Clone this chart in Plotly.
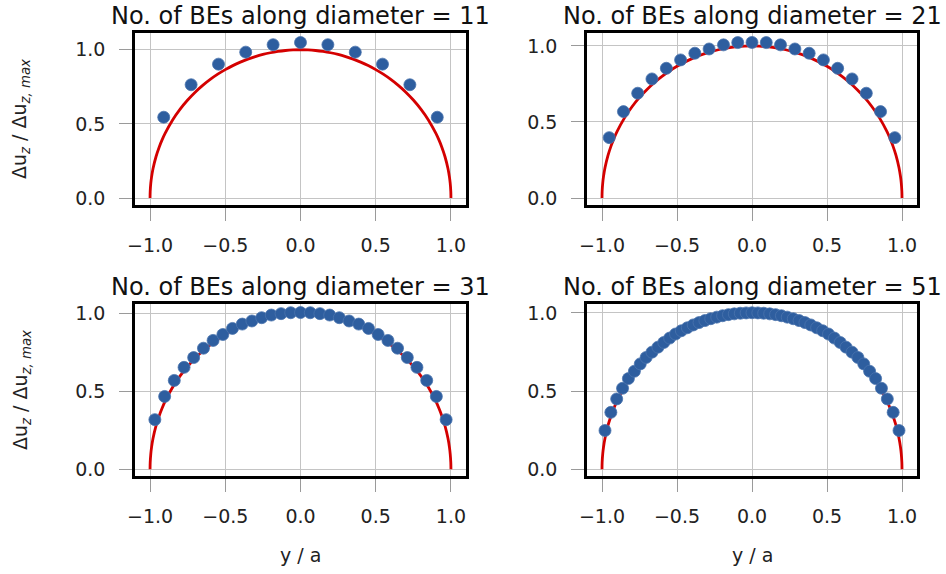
import plotly.graph_objects as go
from plotly.subplots import make_subplots

# ---- data ----
titles = ["No. of BEs along diameter = 11", "No. of BEs along diameter = 21",
          "No. of BEs along diameter = 31", "No. of BEs along diameter = 51"]

curve_x = [-1.0, -0.999, -0.995, -0.99, -0.98, -0.96, -0.94, -0.92, -0.9, -0.85, -0.8, -0.75, -0.7,
           -0.65, -0.6, -0.55, -0.5, -0.45, -0.4, -0.35, -0.3, -0.25, -0.2, -0.15, -0.1, -0.05, 0.0,
           0.05, 0.1, 0.15, 0.2, 0.25, 0.3, 0.35, 0.4, 0.45, 0.5, 0.55, 0.6, 0.65,
           0.7, 0.75, 0.8, 0.85, 0.9, 0.92, 0.94, 0.96, 0.98, 0.99, 0.995, 0.999, 1.0]
curve_y = [0.0, 0.0447, 0.0999, 0.1411, 0.199, 0.28, 0.3412, 0.3919, 0.4359, 0.5268, 0.6, 0.6614, 0.7141,
           0.7599, 0.8, 0.8352, 0.866, 0.893, 0.9165, 0.9367, 0.9539, 0.9682, 0.9798, 0.9887, 0.995, 0.9987, 1.0,
           0.9987, 0.995, 0.9887, 0.9798, 0.9682, 0.9539, 0.9367, 0.9165, 0.893, 0.866, 0.8352, 0.8, 0.7599,
           0.7141, 0.6614, 0.6, 0.5268, 0.4359, 0.3919, 0.3412, 0.28, 0.199, 0.1411, 0.0999, 0.0447, 0.0]

x11 = [-0.909, -0.727, -0.545, -0.364, -0.182, 0.0, 0.182, 0.364, 0.545, 0.727, 0.909]
y11 = [0.545, 0.764, 0.903, 0.984, 1.034, 1.049, 1.034, 0.984, 0.903, 0.764, 0.545]

x21 = [-0.952, -0.857, -0.762, -0.667, -0.571, -0.476, -0.381, -0.286, -0.190, -0.095, 0.0,
       0.095, 0.190, 0.286, 0.381, 0.476, 0.571, 0.667, 0.762, 0.857, 0.952]
y21 = [0.397, 0.568, 0.689, 0.783, 0.853, 0.908, 0.952, 0.980, 1.007, 1.022, 1.023,
       1.022, 1.007, 0.980, 0.952, 0.908, 0.853, 0.783, 0.689, 0.568, 0.397]

x31 = [-0.968, -0.903, -0.839, -0.774, -0.710, -0.645, -0.581, -0.516, -0.452, -0.387, -0.323,
       -0.258, -0.194, -0.129, -0.065, 0.0, 0.065, 0.129, 0.194, 0.258, 0.323, 0.387, 0.452,
       0.516, 0.581, 0.645, 0.710, 0.774, 0.839, 0.903, 0.968]
y31 = [0.319, 0.468, 0.571, 0.655, 0.718, 0.778, 0.828, 0.866, 0.905, 0.933, 0.953,
       0.974, 0.991, 1.000, 1.006, 1.007, 1.006, 1.000, 0.991, 0.974, 0.953, 0.933, 0.905,
       0.866, 0.828, 0.778, 0.718, 0.655, 0.571, 0.468, 0.319]

x51 = [-0.980, -0.941, -0.902, -0.863, -0.824, -0.784, -0.745, -0.706, -0.667, -0.627, -0.588,
       -0.549, -0.510, -0.471, -0.431, -0.392, -0.353, -0.314, -0.275, -0.235, -0.196, -0.157,
       -0.118, -0.078, -0.039, 0.0, 0.039, 0.078, 0.118, 0.157, 0.196, 0.235, 0.275, 0.314,
       0.353, 0.392, 0.431, 0.471, 0.510, 0.549, 0.588, 0.627, 0.667, 0.706, 0.745, 0.784,
       0.824, 0.863, 0.902, 0.941, 0.980]
y51 = [0.248, 0.364, 0.450, 0.518, 0.580, 0.627, 0.674, 0.715, 0.749, 0.781, 0.811,
       0.839, 0.865, 0.886, 0.905, 0.923, 0.938, 0.951, 0.963, 0.973, 0.982, 0.989,
       0.994, 0.998, 1.000, 1.001, 1.000, 0.998, 0.994, 0.989, 0.982, 0.973, 0.963, 0.951,
       0.938, 0.923, 0.905, 0.886, 0.865, 0.839, 0.811, 0.781, 0.749, 0.715, 0.674, 0.627,
       0.580, 0.518, 0.450, 0.364, 0.248]

x_ticks = [-1.0, -0.5, 0.0, 0.5, 1.0]
x_ticktext = ["\u22121.0", "\u22120.5", "0.0", "0.5", "1.0"]
y_ticks = [0.0, 0.5, 1.0]
y_ticktext = ["0.0", "0.5", "1.0"]

points = [(x11, y11), (x21, y21), (x31, y31), (x51, y51)]
y_ranges = [[-0.047, 1.113], [-0.046, 1.085], [-0.043, 1.062], [-0.043, 1.057]]

W, H = 946, 574
boxes = [(135, 466, 33, 205), (587, 917, 33, 205), (135, 466, 304, 476), (587, 917, 304, 476)]

FONT = "DejaVu Sans"
RED = "#d40000"
BLUE = "#2e5e9f"

fig = make_subplots(rows=2, cols=2)
for i, (px, py) in enumerate(points):
    r, c = i // 2 + 1, i % 2 + 1
    fig.add_trace(go.Scatter(x=curve_x, y=curve_y, mode="lines", line=dict(color=RED, width=2.8, shape="spline"),
                             showlegend=False, hoverinfo="skip"), row=r, col=c)
    fig.add_trace(go.Scatter(x=px, y=py, mode="markers",
                             marker=dict(color=BLUE, size=12, line=dict(color="#4a74ad", width=0.8)),
                             showlegend=False), row=r, col=c)
    x0, x1, y0, y1 = boxes[i]
    axn = "" if i == 0 else str(i + 1)
    fig.layout["xaxis" + axn].update(
        domain=[x0 / W, x1 / W], range=[-1.1, 1.1], tickvals=x_ticks, ticktext=x_ticktext,
        showgrid=True, gridcolor="#c4c4c4", gridwidth=1, zeroline=False, automargin=False,
        showline=True, linecolor="black", linewidth=2.5, mirror=True,
        ticks="outside", ticklen=13, tickcolor="#9a9a9a", tickwidth=1, ticklabelstandoff=8,
        tickfont=dict(family=FONT, size=19, color="#222222"))
    fig.layout["yaxis" + axn].update(
        domain=[1 - y1 / H, 1 - y0 / H], range=y_ranges[i], tickvals=y_ticks, ticktext=y_ticktext,
        showgrid=True, gridcolor="#c4c4c4", gridwidth=1, zeroline=False, automargin=False,
        showline=True, linecolor="black", linewidth=2.5, mirror=True,
        ticks="outside", ticklen=13, tickcolor="#9a9a9a", tickwidth=1, ticklabelstandoff=10,
        tickfont=dict(family=FONT, size=19, color="#222222"))
    # title
    fig.add_annotation(text=titles[i], x=(x0 + x1) / 2 / W, y=1 - (y0 - 17) / H, xref="paper", yref="paper",
                       xanchor="center", yanchor="middle", showarrow=False,
                       font=dict(family=FONT, size=24, color="#111111"))

ylabel = "\u0394u<sub><i>z</i></sub> / \u0394u<sub><i>z, max</i></sub>"
for yc in [119, 390]:
    fig.add_annotation(text=ylabel, x=21 / W, y=1 - yc / H, xref="paper", yref="paper",
                       xanchor="center", yanchor="middle", textangle=-90, showarrow=False,
                       font=dict(family=FONT, size=19, color="#222222"))
for xc in [300, 752]:
    fig.add_annotation(text="y / a", x=xc / W, y=1 - 555 / H, xref="paper", yref="paper",
                       xanchor="center", yanchor="middle", showarrow=False,
                       font=dict(family=FONT, size=19, color="#222222"))

fig.update_layout(width=W, height=H, margin=dict(l=0, r=0, t=0, b=0, autoexpand=False),
                  paper_bgcolor="white", plot_bgcolor="white")
fig.write_html("out.html", config={"displayModeBar": False},
               post_script="document.body.style.margin='0';document.body.style.overflow='hidden';")
